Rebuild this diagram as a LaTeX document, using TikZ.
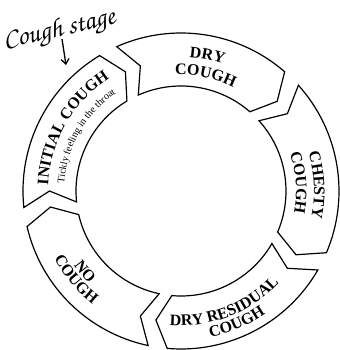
\documentclass[tikz,border=0pt]{standalone}
\usepackage{fontspec}
\setmainfont{Liberation Serif}
\newfontfamily\handfont{TeX Gyre Chorus}
\usetikzlibrary{arrows.meta,decorations.text}
\newcommand{\stagefont}{\bfseries\fontsize{16bp}{16bp}\selectfont}
\newcommand{\notefont}{\fontsize{10bp}{10bp}\selectfont}

\begin{document}
\begin{tikzpicture}[
  stage/.style={draw, line width=1.2bp, fill=white},
  arclabel/.style={decorate, decoration={text along path, text align=center, text={#1}}},
  pointer/.style={-{Straight Barb[length=5bp, width=8bp]}, line width=1.3bp}
]
  \useasboundingbox (-181bp,-159bp) rectangle (159bp,191bp);

  % Initial cough
  \draw[stage] (186:158bp) arc[start angle=186, end angle=121, radius=158bp]
    -- (115:131.5bp) -- (121:105bp) arc[start angle=121, end angle=186, radius=105bp]
    -- (180:131.5bp) -- cycle;
  \path[arclabel={|\stagefont|INITIAL COUGH}] (190:133bp) arc[start angle=190, end angle=110, radius=133bp];
  \path[arclabel={|\notefont|Tickly feeling in the throat}] (190:117bp) arc[start angle=190, end angle=110, radius=117bp];

  % Dry cough
  \draw[stage] (114:158bp) arc[start angle=114, end angle=49, radius=158bp]
    -- (43:131.5bp) -- (49:105bp) arc[start angle=49, end angle=114, radius=105bp]
    -- (108:131.5bp) -- cycle;
  \path[arclabel={|\stagefont|DRY}] (119:134bp) arc[start angle=119, end angle=39, radius=134bp];
  \path[arclabel={|\stagefont|COUGH}] (118:116bp) arc[start angle=118, end angle=38, radius=116bp];

  % Chesty cough
  \draw[stage] (42:158bp) arc[start angle=42, end angle=-23, radius=158bp]
    -- (-29:131.5bp) -- (-23:105bp) arc[start angle=-23, end angle=42, radius=105bp]
    -- (36:131.5bp) -- cycle;
  \path[arclabel={|\stagefont|CHESTY}] (42.5:133bp) arc[start angle=42.5, end angle=-37.5, radius=133bp];
  \path[arclabel={|\stagefont|COUGH}] (44:115bp) arc[start angle=44, end angle=-36, radius=115bp];

  % Dry residual cough
  \draw[stage] (-30:158bp) arc[start angle=-30, end angle=-95, radius=158bp]
    -- (-101:131.5bp) -- (-95:105bp) arc[start angle=-95, end angle=-30, radius=105bp]
    -- (-36:131.5bp) -- cycle;
  \path[arclabel={|\stagefont|DRY RESIDUAL}] (-114:134.5bp) arc[start angle=-114, end angle=-24, radius=134.5bp];
  \path[arclabel={|\stagefont|COUGH}] (-107:149bp) arc[start angle=-107, end angle=-27, radius=149bp];

  % No cough
  \draw[stage] (-102:158bp) arc[start angle=-102, end angle=-167, radius=158bp]
    -- (-173:131.5bp) -- (-167:105bp) arc[start angle=-167, end angle=-102, radius=105bp]
    -- (-108:131.5bp) -- cycle;
  \path[arclabel={|\stagefont|NO}] (-180:130.5bp) arc[start angle=-180, end angle=-100, radius=130.5bp];
  \path[arclabel={|\stagefont|COUGH}] (-180:143.5bp) arc[start angle=-180, end angle=-100, radius=143.5bp];

  % Handwritten note
  \node[font=\handfont\fontsize{27bp}{27bp}\selectfont, rotate=13, anchor=base west, inner sep=0pt] (stage note) at (-176bp,142bp) {Cough stage};
  \coordinate (pointer tail) at (-119bp,152bp);
  \coordinate (pointer head) at (-115bp,126bp);
  \draw[pointer] (pointer tail) -- (pointer head);
\end{tikzpicture}
\end{document}
